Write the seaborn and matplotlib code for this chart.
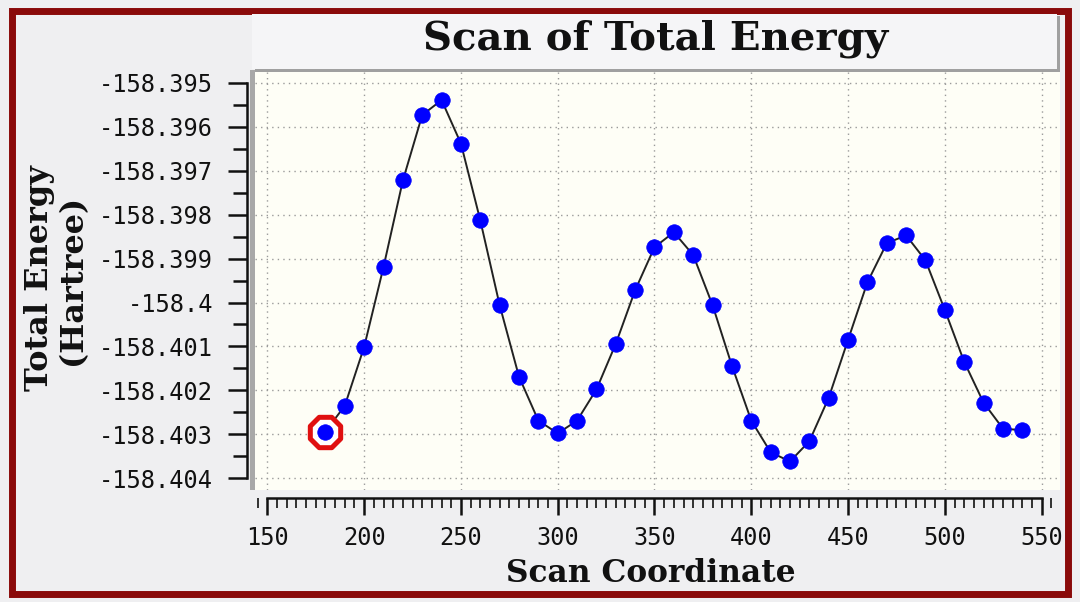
import numpy as np
import pandas as pd
import matplotlib
matplotlib.use("Agg")
import matplotlib.pyplot as plt
import seaborn as sns
from matplotlib.patches import Rectangle
from matplotlib.ticker import MultipleLocator, FixedLocator

# scan points
scan_coord = [180, 190, 200, 210, 220, 230, 240, 250, 260, 270, 280, 290, 300,
              310, 320, 330, 340, 350, 360, 370, 380, 390, 400, 410, 420, 430,
              440, 450, 460, 470, 480, 490, 500, 510, 520, 530, 540]
total_energy = [-158.40294, -158.40235, -158.40101, -158.39919, -158.39722,
                -158.39573, -158.39539, -158.39638, -158.39813, -158.40006,
                -158.40169, -158.40269, -158.40298, -158.40269, -158.40198,
                -158.40094, -158.39972, -158.39874, -158.39840, -158.39892,
                -158.40006, -158.40144, -158.40269, -158.40341, -158.40362,
                -158.40316, -158.40217, -158.40085, -158.39954, -158.39865,
                -158.39847, -158.39904, -158.40017, -158.40135, -158.40228,
                -158.40287, -158.40291]
y_ticks = [-158.395, -158.396, -158.397, -158.398, -158.399, -158.4,
           -158.401, -158.402, -158.403, -158.404]
y_tick_labels = ["-158.395", "-158.396", "-158.397", "-158.398", "-158.399",
                 "-158.4", "-158.401", "-158.402", "-158.403", "-158.404"]
x_ticks = [150, 200, 250, 300, 350, 400, 450, 500, 550]

df = pd.DataFrame({"coord": scan_coord, "energy": total_energy})

sns.set_theme(style="white")
plt.rcParams["font.family"] = ["DejaVu Serif"]

fig = plt.figure(figsize=(10.8, 6.02), dpi=100)
fig.patch.set_facecolor("#efeff1")

# outer dark red frame
fig.patches.append(Rectangle((12 / 1080, 1 - 594 / 602), 1056 / 1080, 583 / 602,
                             transform=fig.transFigure, fill=False,
                             edgecolor="#8a0a0a", linewidth=5, zorder=0))
# title box with shadow
fig.patches.append(Rectangle((255 / 1080, 1 - 72 / 602), 805 / 1080, 56 / 602,
                             transform=fig.transFigure, facecolor="#a0a0a0",
                             edgecolor="none", zorder=0))
fig.patches.append(Rectangle((252 / 1080, 1 - 69 / 602), 805 / 1080, 55 / 602,
                             transform=fig.transFigure, facecolor="#f5f5f7",
                             edgecolor="none", zorder=0))
# panel left shadow line
fig.patches.append(Rectangle((250 / 1080, 1 - 490 / 602), 5 / 1080, 420 / 602,
                             transform=fig.transFigure, facecolor="#a8a8a8",
                             edgecolor="none", zorder=0))

ax = fig.add_axes([255 / 1080, 1 - 490 / 602, 805 / 1080, 418 / 602])
ax.set_facecolor("#fefef6")

sns.lineplot(data=df, x="coord", y="energy", ax=ax, color="#222222",
             linewidth=1.4, zorder=3)
sns.scatterplot(data=df, x="coord", y="energy", ax=ax, color="#0000ff",
                s=125, edgecolor="#0000ff", linewidth=0.5, zorder=5)
# highlighted first point
ax.scatter(df["coord"].iloc[:1], df["energy"].iloc[:1], s=560, marker="8",
           facecolor="white", edgecolor="#e01010", linewidth=3.6, zorder=4)

ax.set_xlim(143.6, 559.5)
ax.set_ylim(-158.40427, -158.39475)

ax.grid(True, linestyle=(0, (1, 3)), color="#9a9a9a", linewidth=1.0)
ax.set_axisbelow(True)
ax.xaxis.set_major_locator(FixedLocator(x_ticks))
ax.xaxis.set_minor_locator(MultipleLocator(5))
ax.yaxis.set_major_locator(FixedLocator(y_ticks))
ax.yaxis.set_minor_locator(FixedLocator([v + 0.0005 for v in y_ticks[1:]]))
ax.set_yticklabels(y_tick_labels)
ax.set_xticklabels([str(v) for v in x_ticks])

for side in ["top", "right"]:
    ax.spines[side].set_visible(False)
ax.spines["left"].set_position(("outward", 6))
ax.spines["left"].set_bounds(-158.404, -158.395)
ax.spines["bottom"].set_position(("outward", 6))
ax.spines["bottom"].set_bounds(150, 550)
for side in ["left", "bottom"]:
    ax.spines[side].set_color("#111111")
    ax.spines[side].set_linewidth(1.8)

ax.tick_params(axis="y", which="major", direction="out", length=14, width=1.8,
               color="#111111", pad=10, left=True, labelsize=17)
ax.tick_params(axis="y", which="minor", direction="out", length=10, width=1.8,
               color="#111111", left=True)
ax.tick_params(axis="x", which="major", direction="out", length=12, width=1.8,
               color="#111111", pad=8, bottom=True, labelsize=17)
ax.tick_params(axis="x", which="minor", direction="out", length=7, width=1.2,
               color="#111111", bottom=True)
for lbl in ax.get_xticklabels() + ax.get_yticklabels():
    lbl.set_fontfamily("DejaVu Sans Mono")
    lbl.set_color("#111111")

ax.set_xlabel("")
ax.set_ylabel("")
fig.text(651 / 1080, 1 - 574 / 602, "Scan Coordinate", ha="center", va="center",
         fontsize=22.5, fontweight="bold", color="#111111")
fig.text(40 / 1080, 1 - 278 / 602, "Total Energy", ha="center", va="center",
         rotation=90, fontsize=23, fontweight="bold", color="#111111")
fig.text(73 / 1080, 1 - 280 / 602, "(Hartree)", ha="center", va="center",
         rotation=90, fontsize=23, fontweight="bold", color="#111111")
fig.text(656 / 1080, 1 - 39 / 602, "Scan of Total Energy", ha="center",
         va="center", fontsize=29, fontweight="bold", color="#111111")

fig.savefig("out.png", dpi=100, facecolor=fig.get_facecolor())
